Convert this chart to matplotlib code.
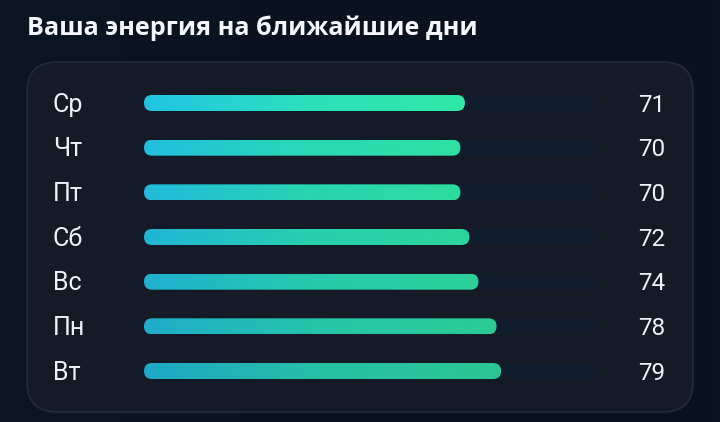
import numpy as np
import matplotlib
matplotlib.use("Agg")
import matplotlib.pyplot as plt
from matplotlib.patches import FancyBboxPatch
from matplotlib.colors import LinearSegmentedColormap

title = "Ваша энергия на ближайшие дни"
days = ["Ср", "Чт", "Пт", "Сб", "Вс", "Пн", "Вт"]
energy = [71, 70, 70, 72, 74, 78, 79]
max_value = 100

FONT = ["Roboto", "DejaVu Sans"]
TFONT = ["Open Sans", "DejaVu Sans"]
W, H = 720, 422
fig = plt.figure(figsize=(W / 100, H / 100), dpi=100)
fig.patch.set_facecolor("#0a1220")

# background axes in pixel coordinates
bg = fig.add_axes([0, 0, 1, 1])
bg.set_xlim(0, W)
bg.set_ylim(H, 0)
bg.axis("off")
grad = np.linspace(0, 1, 256).reshape(1, -1)
bgcm = LinearSegmentedColormap.from_list("bg", ["#0c1523", "#0a1220", "#0b1322"])
bg.imshow(grad, extent=(0, W, H, 0), cmap=bgcm, aspect="auto", zorder=0)
card = FancyBboxPatch((27, 62), 666, 350, boxstyle="round,pad=0,rounding_size=30",
                      facecolor="#141b27", edgecolor="#222b38", linewidth=1.2, zorder=1)
bg.add_patch(card)
bg.text(27, 35, title, fontsize=18.2, fontweight="bold", color="#f4f6f9",
        family=TFONT, va="baseline", ha="left", zorder=2)

# bar axes
x0, x1 = 144, 596
row0, step = 103, (371 - 103) / 6
n = len(days)
top = row0 - step / 2
bottom = row0 + (n - 1) * step + step / 2
ax = fig.add_axes([x0 / W, 1 - bottom / H, (x1 - x0) / W, (bottom - top) / H])
ax.set_xlim(0, max_value)
ax.set_ylim(n - 0.5, -0.5)
ax.axis("off")
ax.patch.set_alpha(0)

px_x = (x1 - x0) / max_value  # px per x unit
px_y = step                    # px per y unit
bar_h = 16 / px_y
r = 8 / px_x
asp = (1 / px_y) / (1 / px_x)
base_off = 8.7 / px_y

cm = LinearSegmentedColormap.from_list("bar", ["#22c4e6", "#2ae0bc", "#30e8a6"])
for i, (d, v) in enumerate(zip(days, energy)):
    track = FancyBboxPatch((0, i - bar_h / 2), max_value, bar_h,
                           boxstyle=f"round,pad=0,rounding_size={r}",
                           mutation_aspect=asp, facecolor="#111c2e",
                           edgecolor="none", zorder=1)
    ax.add_patch(track)
    bar = FancyBboxPatch((0, i - bar_h / 2), v, bar_h,
                         boxstyle=f"round,pad=0,rounding_size={r}",
                         mutation_aspect=asp, facecolor="none",
                         edgecolor="none", zorder=2)
    ax.add_patch(bar)
    alpha = 1.0 - 0.16 * i / (n - 1)
    im = ax.imshow(grad, extent=(0, v, i + bar_h / 2, i - bar_h / 2), cmap=cm,
                   aspect="auto", zorder=2, alpha=alpha, interpolation="bilinear")
    im.set_clip_path(bar)
    ax.text((53 - x0) / px_x, i + base_off, d, fontsize=18, color="#eef1f5",
            family=FONT, va="baseline", ha="left", clip_on=False)
    ax.text((665 - x0) / px_x, i + base_off, f"{v}", fontsize=17.5, color="#eef1f5",
            family=FONT, va="baseline", ha="right", clip_on=False)

ax.set_xlim(0, max_value)
ax.set_ylim(n - 0.5, -0.5)
fig.savefig("out.png", dpi=100, facecolor=fig.get_facecolor())
